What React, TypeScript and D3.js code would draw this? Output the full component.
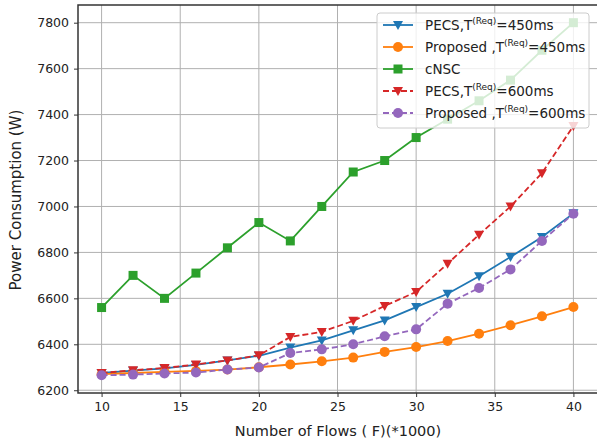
import React, { useEffect, useRef } from "react";
import * as d3 from "d3";

const flows = [10, 12, 14, 16, 18, 20, 22, 24, 26, 28, 30, 32, 34, 36, 38, 40];

const pecs450 = [6275, 6285, 6295, 6310, 6330, 6350, 6386, 6417, 6461, 6504, 6562, 6620, 6696, 6780, 6867, 6970];
const proposed450 = [6270, 6275, 6280, 6284, 6290, 6300, 6312, 6326, 6342, 6367, 6388, 6414, 6446, 6483, 6522, 6562];
const cnsc = [6560, 6700, 6600, 6710, 6820, 6930, 6850, 7000, 7150, 7200, 7300, 7380, 7460, 7550, 7680, 7800];
const pecs600 = [6275, 6287, 6297, 6312, 6330, 6352, 6432, 6454, 6502, 6567, 6628, 6751, 6877, 7000, 7145, 7350];
const proposed600 = [6265, 6268, 6273, 6277, 6290, 6299, 6362, 6378, 6400, 6435, 6465, 6577, 6645, 6726, 6850, 6968];

const xTicks = [10, 15, 20, 25, 30, 35, 40];
const yTicks = [6200, 6400, 6600, 6800, 7000, 7200, 7400, 7600, 7800];

const series = [
  { name: "PECS,T", sup: "(Req)", tail: "=450ms", values: pecs450, color: "#1f77b4", marker: "tri", dashed: false },
  { name: "Proposed ,T", sup: "(Req)", tail: "=450ms", values: proposed450, color: "#ff7f0e", marker: "circle", dashed: false },
  { name: "cNSC", sup: "", tail: "", values: cnsc, color: "#2ca02c", marker: "square", dashed: false },
  { name: "PECS,T", sup: "(Req)", tail: "=600ms", values: pecs600, color: "#d62728", marker: "tri", dashed: true },
  { name: "Proposed ,T", sup: "(Req)", tail: "=600ms", values: proposed600, color: "#9467bd", marker: "circle", dashed: true },
];

const W = 597;
const H = 440;
const FONT = "DejaVu Sans, sans-serif";

const App = () => {
  const svgRef = useRef<SVGSVGElement>(null);

  useEffect(() => {
    const svg = d3.select(svgRef.current);
    svg.selectAll("*").remove();

    const left = 78, right = 597, top = 5, bottom = 393;

    const x = d3.scaleLinear().domain([8.5, 41.5]).range([left, right]);
    const y = d3.scaleLinear().domain([6188, 7877]).range([bottom, top]);

    svg.append("rect").attr("width", W).attr("height", H).attr("fill", "white");

    // grid
    const grid = svg.append("g").attr("stroke", "#b0b0b0").attr("stroke-width", 1);
    xTicks.forEach((t) => {
      grid.append("line").attr("x1", x(t)).attr("x2", x(t)).attr("y1", top).attr("y2", bottom);
    });
    yTicks.forEach((t) => {
      grid.append("line").attr("x1", left).attr("x2", right).attr("y1", y(t)).attr("y2", y(t));
    });

    // axes
    const xAxis = svg
      .append("g")
      .attr("transform", `translate(0,${bottom})`)
      .call(d3.axisBottom(x).tickValues(xTicks).tickSize(4).tickPadding(5).tickFormat(d3.format("d")));
    const yAxis = svg
      .append("g")
      .attr("transform", `translate(${left},0)`)
      .call(d3.axisLeft(y).tickValues(yTicks).tickSize(4).tickPadding(5).tickFormat(d3.format("d")));
    [xAxis, yAxis].forEach((a) => {
      a.selectAll("text").style("font-family", FONT).style("font-size", "12.5px").attr("fill", "#222");
      a.selectAll("line").attr("stroke", "#333");
      a.select(".domain").remove();
    });

    // spines
    svg.append("rect")
      .attr("x", left).attr("y", top)
      .attr("width", right - left + 2).attr("height", bottom - top)
      .attr("fill", "none").attr("stroke", "#333").attr("stroke-width", 1.5);

    const line = d3
      .line<number>()
      .x((d, i) => x(flows[i]))
      .y((d) => y(d));

    const drawMarker = (g, kind, cx, cy, color) => {
      if (kind === "circle") {
        g.append("circle").attr("cx", cx).attr("cy", cy).attr("r", 5).attr("fill", color);
      } else if (kind === "square") {
        g.append("rect").attr("x", cx - 4.5).attr("y", cy - 4.5).attr("width", 9).attr("height", 9).attr("fill", color);
      } else {
        const s = 5;
        g.append("path")
          .attr("d", `M${cx - s},${cy - s * 0.8}L${cx + s},${cy - s * 0.8}L${cx},${cy + s}Z`)
          .attr("fill", color);
      }
    };

    const plot = svg.append("g");
    series.forEach((s) => {
      plot.append("path")
        .datum(s.values)
        .attr("d", line)
        .attr("fill", "none")
        .attr("stroke", s.color)
        .attr("stroke-width", 1.8)
        .attr("stroke-dasharray", s.dashed ? "6,3" : null);
      s.values.forEach((v, i) => drawMarker(plot, s.marker, x(flows[i]), y(v), s.color));
    });

    // legend
    const lg = svg.append("g");
    lg.append("rect")
      .attr("x", 377).attr("y", 13).attr("width", 212).attr("height", 115)
      .attr("rx", 3)
      .attr("fill", "white").attr("fill-opacity", 0.8)
      .attr("stroke", "#ccc");
    series.forEach((s, i) => {
      const ly = 25 + i * 22;
      lg.append("line")
        .attr("x1", 383).attr("x2", 413).attr("y1", ly).attr("y2", ly)
        .attr("stroke", s.color).attr("stroke-width", 1.8)
        .attr("stroke-dasharray", s.dashed ? "6,3" : null);
      drawMarker(lg, s.marker, 398, ly, s.color);
      const t = lg.append("text")
        .attr("x", 425).attr("y", ly + 5)
        .style("font-family", FONT).style("font-size", "13.5px").attr("fill", "#222");
      t.append("tspan").text(s.name);
      if (s.sup) {
        t.append("tspan").attr("dy", -6).style("font-size", "9px").text(s.sup);
        t.append("tspan").attr("dy", 6).text(s.tail);
      }
    });

    // labels
    svg.append("text")
      .attr("x", 338).attr("y", 436)
      .attr("text-anchor", "middle")
      .style("font-family", FONT).style("font-size", "14.5px").attr("fill", "#222")
      .text("Number of Flows ( F)(*1000)");
    svg.append("text")
      .attr("transform", `translate(21,200) rotate(-90)`)
      .attr("text-anchor", "middle")
      .style("font-family", FONT).style("font-size", "15px").attr("fill", "#222")
      .text("Power Consumption (W)");
  }, []);

  return (
    <svg
      ref={svgRef}
      width={W}
      height={H}
      style={{ position: "absolute", left: 0, top: 0, display: "block" }}
    ></svg>
  );
};

export default App;
